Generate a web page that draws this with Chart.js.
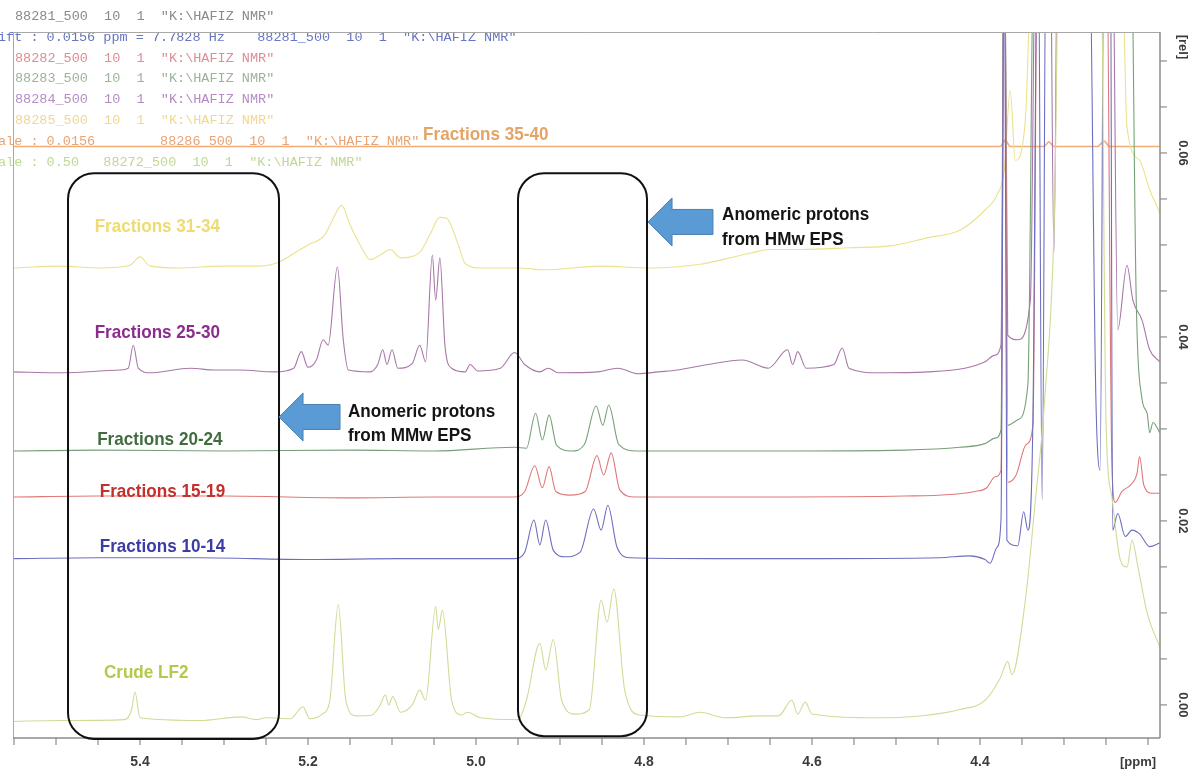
<!DOCTYPE html>
<html>
<head>
<meta charset="utf-8">
<title>1H NMR anomeric region</title>
<script src="https://cdn.jsdelivr.net/npm/chart.js@4.4.1/dist/chart.umd.min.js"></script>
<style>
    html, body { margin: 0; padding: 0; background: #fff; overflow: hidden; }
    canvas { display: block; }
</style>
</head>
<body>
<canvas id="nmr" width="1190" height="769"></canvas>
<script>
// [ppm, intensity] (0.09 = off scale, clipped)
const crudeLF2 = [[5.551,-0.0018],[5.495,-0.0017],[5.418,-0.0016],[5.410,-0.0005],[5.406,0.0014],[5.400,-0.0014],[5.329,-0.0017],[5.279,-0.0013],[5.262,-0.0016],[5.250,-0.0014],[5.221,-0.0015],[5.206,-0.0002],[5.198,-0.0015],[5.183,-0.0010],[5.174,0.0005],[5.164,0.0109],[5.155,0.0005],[5.143,-0.0012],[5.124,-0.0011],[5.114,0.0000],[5.108,0.0011],[5.104,0.0000],[5.099,0.0009],[5.090,-0.0008],[5.076,0.0000],[5.067,0.0016],[5.060,0.0005],[5.048,0.0107],[5.045,0.0082],[5.040,0.0103],[5.029,0.0005],[5.017,-0.0011],[5.010,-0.0008],[4.995,-0.0014],[4.950,-0.0016],[4.940,0.0005],[4.924,0.0067],[4.917,0.0038],[4.908,0.0071],[4.898,0.0005],[4.882,-0.0010],[4.865,-0.0005],[4.851,0.0114],[4.844,0.0090],[4.836,0.0126],[4.823,0.0016],[4.805,-0.0011],[4.757,-0.0013],[4.733,-0.0008],[4.704,-0.0014],[4.662,-0.0012],[4.640,-0.0012],[4.624,0.0005],[4.617,-0.0010],[4.608,0.0003],[4.600,-0.0010],[4.531,-0.0014],[4.471,-0.0012],[4.424,-0.0005],[4.394,0.0005],[4.376,0.0029],[4.367,0.0047],[4.362,0.0033],[4.346,0.0114],[4.334,0.0223],[4.323,0.0332],[4.311,0.0549],[4.305,0.09],[4.257,0.09],[4.250,0.0310],[4.243,0.0226],[4.233,0.0158],[4.225,0.0150],[4.219,0.0179],[4.212,0.0150],[4.201,0.0100],[4.186,0.0063]]

const fr10to14 = [[5.551,0.0159],[5.450,0.0160],[5.329,0.0160],[5.200,0.0158],[5.090,0.0159],[4.954,0.0159],[4.942,0.0166],[4.931,0.0201],[4.924,0.0174],[4.917,0.0201],[4.908,0.0168],[4.894,0.0161],[4.876,0.0166],[4.860,0.0213],[4.851,0.0190],[4.843,0.0217],[4.832,0.0171],[4.817,0.0160],[4.700,0.0159],[4.614,0.0159],[4.448,0.0160],[4.412,0.0162],[4.394,0.0158],[4.388,0.0154],[4.380,0.0171],[4.375,0.0201],[4.371,0.09],[4.368,0.0179],[4.355,0.0173],[4.348,0.0210],[4.343,0.0190],[4.337,0.0310],[4.331,0.09],[4.326,0.0223],[4.321,0.09],[4.271,0.09],[4.262,0.0332],[4.257,0.0255],[4.252,0.09],[4.245,0.09],[4.242,0.0190],[4.236,0.0208],[4.227,0.0183],[4.219,0.0190],[4.210,0.0186],[4.198,0.0172],[4.186,0.0176]]

const fr15to19 = [[5.551,0.0226],[5.450,0.0227],[5.300,0.0227],[5.150,0.0225],[5.050,0.0226],[4.955,0.0226],[4.942,0.0232],[4.930,0.0260],[4.921,0.0236],[4.913,0.0259],[4.905,0.0232],[4.888,0.0228],[4.870,0.0232],[4.856,0.0271],[4.848,0.0250],[4.839,0.0274],[4.829,0.0234],[4.811,0.0226],[4.650,0.0226],[4.490,0.0227],[4.406,0.0232],[4.392,0.0236],[4.382,0.0248],[4.375,0.0255],[4.371,0.09],[4.367,0.0242],[4.357,0.0250],[4.345,0.0283],[4.337,0.0304],[4.331,0.09],[4.250,0.09],[4.243,0.0263],[4.239,0.0220],[4.231,0.0232],[4.221,0.0239],[4.213,0.0252],[4.210,0.0270],[4.205,0.0239],[4.195,0.0230],[4.186,0.0230]]

const fr20to24 = [[5.551,0.0276],[5.450,0.0277],[5.300,0.0276],[5.150,0.0277],[5.050,0.0276],[4.954,0.0280],[4.940,0.0279],[4.929,0.0317],[4.921,0.0288],[4.913,0.0315],[4.904,0.0282],[4.886,0.0276],[4.871,0.0283],[4.857,0.0325],[4.849,0.0304],[4.842,0.0326],[4.830,0.0283],[4.808,0.0276],[4.650,0.0276],[4.490,0.0277],[4.424,0.0280],[4.394,0.0284],[4.382,0.0290],[4.375,0.0299],[4.371,0.09],[4.367,0.0304],[4.355,0.0310],[4.343,0.0348],[4.335,0.09],[4.221,0.09],[4.214,0.0440],[4.207,0.0332],[4.201,0.0317],[4.198,0.0296],[4.194,0.0307],[4.186,0.0296]]

const fr25to30 = [[5.551,0.0362],[5.495,0.0361],[5.424,0.0364],[5.414,0.0366],[5.408,0.0391],[5.402,0.0366],[5.388,0.0361],[5.340,0.0366],[5.311,0.0364],[5.281,0.0364],[5.240,0.0362],[5.217,0.0366],[5.208,0.0384],[5.200,0.0367],[5.190,0.0375],[5.182,0.0397],[5.176,0.0391],[5.165,0.0476],[5.158,0.0397],[5.152,0.0364],[5.126,0.0362],[5.117,0.0370],[5.111,0.0386],[5.106,0.0370],[5.100,0.0386],[5.093,0.0366],[5.076,0.0371],[5.067,0.0391],[5.060,0.0373],[5.052,0.0489],[5.048,0.0440],[5.043,0.0486],[5.037,0.0391],[5.029,0.0366],[5.013,0.0362],[5.007,0.0370],[4.998,0.0363],[4.971,0.0366],[4.954,0.0383],[4.942,0.0370],[4.924,0.0362],[4.914,0.0366],[4.902,0.0361],[4.855,0.0362],[4.831,0.0366],[4.807,0.0360],[4.783,0.0362],[4.760,0.0364],[4.724,0.0370],[4.683,0.0375],[4.652,0.0366],[4.629,0.0386],[4.623,0.0370],[4.617,0.0384],[4.607,0.0366],[4.574,0.0370],[4.564,0.0388],[4.556,0.0366],[4.521,0.0361],[4.462,0.0362],[4.418,0.0366],[4.394,0.0373],[4.383,0.0380],[4.375,0.0391],[4.371,0.09],[4.367,0.0402],[4.355,0.0397],[4.340,0.0440],[4.333,0.09],[4.317,0.09],[4.312,0.0491],[4.307,0.09],[4.243,0.09],[4.236,0.0408],[4.225,0.0478],[4.218,0.0440],[4.207,0.0418],[4.198,0.0386],[4.186,0.0373]]

const fr31to34 = [[5.551,0.0475],[5.495,0.0477],[5.448,0.0475],[5.412,0.0478],[5.400,0.0487],[5.388,0.0477],[5.352,0.0475],[5.305,0.0477],[5.257,0.0477],[5.233,0.0482],[5.215,0.0492],[5.200,0.0500],[5.180,0.0511],[5.171,0.0527],[5.160,0.0543],[5.150,0.0522],[5.138,0.0500],[5.126,0.0484],[5.114,0.0489],[5.102,0.0495],[5.090,0.0486],[5.067,0.0492],[5.055,0.0511],[5.043,0.0530],[5.035,0.0529],[5.021,0.0500],[5.013,0.0480],[4.995,0.0475],[4.948,0.0475],[4.918,0.0473],[4.852,0.0477],[4.793,0.0475],[4.733,0.0479],[4.674,0.0491],[4.650,0.0495],[4.614,0.0495],[4.555,0.0497],[4.507,0.0499],[4.462,0.0508],[4.424,0.0516],[4.394,0.0538],[4.380,0.0554],[4.371,0.0582],[4.364,0.0668],[4.358,0.0592],[4.346,0.0636],[4.335,0.09],[4.233,0.09],[4.225,0.0628],[4.210,0.0592],[4.198,0.0560],[4.186,0.0535]]

const fr35to40 = [[5.551,0.0607],[5.300,0.0607],[5.050,0.0607],[4.800,0.0607],[4.550,0.0607],[4.376,0.0607],[4.370,0.0614],[4.364,0.0607],[4.324,0.0607],[4.318,0.0612],[4.312,0.0607],[4.260,0.0607],[4.252,0.0613],[4.246,0.0607],[4.186,0.0607]]

const seriesNames = ["Crude LF2", "Fractions 10-14", "Fractions 15-19", "Fractions 20-24", "Fractions 25-30", "Fractions 31-34", "Fractions 35-40"]
const seriesData = [crudeLF2, fr10to14, fr15to19, fr20to24, fr25to30, fr31to34, fr35to40]
const lineColors = ["#cfdc96", "#6e6ec0", "#e07878", "#78a078", "#a878a8", "#ece28e", "#f0ae76"]
const labelColors = ["#b4c84c", "#3c3ca6", "#c4302c", "#406c3e", "#8c2c8c", "#eedc72", "#e4a466"]
// where each spectrum's name sits, [ppm, intensity]
const labelAnchors = [[5.443,0.0035], [5.448,0.0172], [5.448,0.0232], [5.451,0.0288], [5.454,0.0405], [5.454,0.0520], [5.063,0.0620]]

const xTickLabels = ["5.4", "5.2", "5.0", "4.8", "4.6", "4.4"]
const yTickLabels = ["0.00", "0.02", "0.04", "0.06"]

const headerLines = [
    ["88281_500  10  1  \"K:\\HAFIZ NMR\"", 15, "#8a8a8a"],
    ["ift : 0.0156 ppm = 7.7828 Hz    88281_500  10  1  \"K:\\HAFIZ NMR\"", -2, "#6676c2"],
    ["88282_500  10  1  \"K:\\HAFIZ NMR\"", 15, "#e08c94"],
    ["88283_500  10  1  \"K:\\HAFIZ NMR\"", 15, "#9cb49c"],
    ["88284_500  10  1  \"K:\\HAFIZ NMR\"", 15, "#b48cc4"],
    ["88285_500  10  1  \"K:\\HAFIZ NMR\"", 15, "#f0d890"],
    ["ale : 0.0156        88286_500  10  1  \"K:\\HAFIZ NMR\"", -2, "#e8a474"],
    ["ale : 0.50   88272_500  10  1  \"K:\\HAFIZ NMR\"", -2, "#c0d894"],
];

(function() {
    const SANS = '"Liberation Sans Narrow", "Liberation Sans", Arial, sans-serif'

    // Arial Narrow look-alike: squeeze the text horizontally a bit
    function narrowText(ctx, text, px, py, squeeze) {
        ctx.save()
        ctx.translate(px, py)
        ctx.scale(squeeze, 1)
        ctx.fillText(text, 0, 0)
        ctx.restore()
    }

    function roundBox(ctx, x, y, ppmL, ppmR, vTop, vBot) {
        const l = x.getPixelForValue(ppmL), r = x.getPixelForValue(ppmR)
        const t = y.getPixelForValue(vTop), b = y.getPixelForValue(vBot)
        ctx.beginPath()
        ctx.roundRect(l, t, r - l, b - t, 26)
        ctx.stroke()
    }

    function leftArrow(ctx, tx, ty, tail) {
        const head = 24, hh = 24, bh = 12.5
        ctx.beginPath()
        ctx.moveTo(tx, ty)
        ctx.lineTo(tx + head, ty - hh)
        ctx.lineTo(tx + head, ty - bh)
        ctx.lineTo(tail, ty - bh)
        ctx.lineTo(tail, ty + bh)
        ctx.lineTo(tx + head, ty + bh)
        ctx.lineTo(tx + head, ty + hh)
        ctx.closePath()
        ctx.fillStyle = "#5b9bd5"
        ctx.fill()
        ctx.strokeStyle = "#4a7fb0"
        ctx.lineWidth = 1
        ctx.stroke()
    }

    const decor = {
        id: "decor",
        beforeDraw(chart) {
            const ctx = chart.ctx
            ctx.save()
            ctx.fillStyle = "#fff"
            ctx.fillRect(0, 0, chart.width, chart.height)
            ctx.restore()
        },
        afterDatasetsDraw(chart) {
            const ctx = chart.ctx
            const a = chart.chartArea
            const x = chart.scales.x, y = chart.scales.y
            ctx.save()

            // header text (TopSpin title lines)
            ctx.font = '13.5px "Liberation Mono", "DejaVu Sans Mono", monospace'
            ctx.textBaseline = "alphabetic"
            ctx.textAlign = "left"
            headerLines.forEach(function(h, i) {
                ctx.fillStyle = h[2]
                ctx.fillText(h[0], h[1], 20 + i * 20.8)
            })

            // frame
            ctx.strokeStyle = "#a8a8a8"
            ctx.lineWidth = 1
            ctx.beginPath()
            ctx.moveTo(a.left + 0.5, a.bottom)
            ctx.lineTo(a.left + 0.5, a.top + 0.5)
            ctx.lineTo(a.right, a.top + 0.5)
            ctx.stroke()
            ctx.strokeStyle = "#8c8c8c"
            ctx.lineWidth = 1.5
            ctx.beginPath()
            ctx.moveTo(a.left, a.bottom)
            ctx.lineTo(a.right, a.bottom)
            ctx.moveTo(a.right, a.top)
            ctx.lineTo(a.right, a.bottom)
            ctx.stroke()

            // x ticks every 0.05 ppm
            ctx.lineWidth = 1.2
            for (let k = 84; k <= 111; k++) {
                const px = x.getPixelForValue(k * 0.05)
                if (px < a.left - 1 || px > a.right + 1) continue
                ctx.beginPath()
                ctx.moveTo(px, a.bottom)
                ctx.lineTo(px, a.bottom + 7)
                ctx.stroke()
            }
            ctx.fillStyle = "#3c3c3c"
            ctx.font = 'bold 14px "Liberation Sans", Arial, sans-serif'
            ctx.textAlign = "center"
            ctx.textBaseline = "middle"
            for (const t of xTickLabels) {
                ctx.fillText(t, x.getPixelForValue(parseFloat(t)), a.bottom + 24)
            }
            ctx.font = 'bold 13px "Liberation Sans", Arial, sans-serif'
            ctx.fillText("[ppm]", 1138, a.bottom + 24)

            // y ticks every 0.005 on the right
            for (let k = 0; k <= 14; k++) {
                const py = y.getPixelForValue(k * 0.005)
                ctx.beginPath()
                ctx.moveTo(a.right, py)
                ctx.lineTo(a.right + 7, py)
                ctx.stroke()
            }
            ctx.font = 'bold 13px "Liberation Sans", Arial, sans-serif'
            const rotLabel = function(text, py) {
                ctx.save()
                ctx.translate(a.right + 23, py)
                ctx.rotate(Math.PI / 2)
                ctx.fillText(text, 0, 0)
                ctx.restore()
            }
            for (const t of yTickLabels) {
                rotLabel(t, y.getPixelForValue(parseFloat(t)))
            }
            rotLabel("[rel]", a.top + 15)

            // highlight boxes around anomeric regions
            ctx.strokeStyle = "#111"
            ctx.lineWidth = 2
            roundBox(ctx, x, y, 5.4857, 5.2345, 0.0578, -0.0037)
            roundBox(ctx, x, y, 4.950, 4.7964, 0.0578, -0.0034)

            // arrows
            leftArrow(ctx, x.getPixelForValue(4.7952), y.getPixelForValue(0.0525), x.getPixelForValue(4.7179))
            leftArrow(ctx, x.getPixelForValue(5.2345), y.getPixelForValue(0.0313), x.getPixelForValue(5.1619))

            // annotation text
            ctx.textAlign = "left"
            ctx.fillStyle = "#141414"
            ctx.font = "bold 18px " + SANS
            narrowText(ctx, "Anomeric protons", x.getPixelForValue(4.7071), y.getPixelForValue(0.0533), 0.95)
            narrowText(ctx, "from HMw EPS", x.getPixelForValue(4.7071), y.getPixelForValue(0.0505), 0.95)
            narrowText(ctx, "Anomeric protons", x.getPixelForValue(5.1524), y.getPixelForValue(0.0318), 0.95)
            narrowText(ctx, "from MMw EPS", x.getPixelForValue(5.1524), y.getPixelForValue(0.0292), 0.95)

            // spectrum names
            ctx.font = "bold 19px " + SANS
            seriesNames.forEach(function(name, i) {
                ctx.fillStyle = labelColors[i]
                narrowText(ctx, name, x.getPixelForValue(labelAnchors[i][0]), y.getPixelForValue(labelAnchors[i][1]), 0.9)
            })
            ctx.restore()
        }
    }

    const datasets = seriesData.map(function(pts, i) {
        return {
            label: seriesNames[i],
            data: pts.map(function(p) { return { x: p[0], y: p[1] } }),
            borderColor: lineColors[i],
            borderWidth: i === 6 ? 1.6 : 1.1,
            pointRadius: 0,
            fill: false,
            clip: 0,
            cubicInterpolationMode: "monotone",
        }
    })

    new Chart(document.getElementById("nmr"), {
        type: "line",
        data: { datasets: datasets },
        options: {
            responsive: false,
            animation: false,
            events: [],
            layout: { padding: { left: 13, right: 30, top: 32, bottom: 31 } },
            scales: {
                x: { type: "linear", reverse: true, min: 4.1857, max: 5.5512, display: false },
                y: { type: "linear", min: -0.0036, max: 0.07315, display: false },
            },
            plugins: {
                legend: { display: false },
                tooltip: { enabled: false },
            },
        },
        plugins: [decor],
    })
})()
</script>
</body>
</html>
